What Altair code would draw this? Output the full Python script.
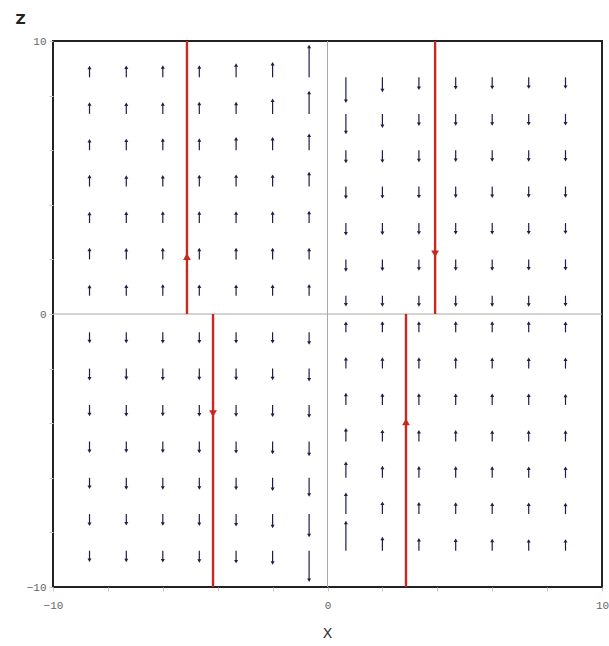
import altair as alt
import pandas as pd

# grid of sample points (x and z)
grid_x = [-8.67, -7.33, -6.0, -4.67, -3.33, -2.0, -0.67, 0.67, 2.0, 3.33, 4.67, 6.0, 7.33, 8.67]
grid_z = [-8.67, -7.33, -6.0, -4.67, -3.33, -2.0, -0.67, 0.67, 2.0, 3.33, 4.67, 6.0, 7.33, 8.67]

# signed vertical arrow length (data units) per column, from z=-8.67 up to z=8.67
arrow_len = [
    [-0.42, -0.44, -0.42, -0.43, -0.42, -0.44, -0.41, 0.41, 0.43, 0.42, 0.44, 0.42, 0.43, 0.43],
    [-0.43, -0.42, -0.44, -0.42, -0.43, -0.42, -0.41, 0.42, 0.42, 0.43, 0.42, 0.43, 0.42, 0.44],
    [-0.44, -0.43, -0.44, -0.43, -0.42, -0.44, -0.42, 0.43, 0.43, 0.44, 0.43, 0.44, 0.43, 0.45],
    [-0.45, -0.44, -0.44, -0.44, -0.43, -0.43, -0.42, 0.42, 0.43, 0.44, 0.44, 0.44, 0.45, 0.45],
    [-0.47, -0.46, -0.45, -0.45, -0.44, -0.43, -0.42, 0.42, 0.43, 0.44, 0.45, 0.49, 0.45, 0.52],
    [-0.52, -0.52, -0.49, -0.47, -0.45, -0.43, -0.42, 0.42, 0.43, 0.44, 0.45, 0.49, 0.57, 0.57],
    [-1.15, -0.85, -0.70, -0.55, -0.48, -0.48, -0.46, 0.43, 0.43, 0.46, 0.55, 0.62, 0.85, 1.20],
    [1.10, 0.80, 0.60, 0.50, 0.45, 0.43, 0.40, -0.40, -0.46, -0.46, -0.46, -0.48, -0.75, -0.95],
    [0.52, 0.47, 0.45, 0.44, 0.43, 0.42, 0.41, -0.41, -0.43, -0.44, -0.45, -0.47, -0.52, -0.55],
    [0.47, 0.45, 0.44, 0.43, 0.43, 0.42, 0.41, -0.41, -0.42, -0.43, -0.44, -0.45, -0.45, -0.47],
    [0.45, 0.44, 0.43, 0.43, 0.42, 0.42, 0.41, -0.41, -0.42, -0.42, -0.43, -0.44, -0.44, -0.45],
    [0.44, 0.43, 0.43, 0.42, 0.42, 0.41, 0.41, -0.41, -0.42, -0.42, -0.43, -0.43, -0.44, -0.44],
    [0.43, 0.43, 0.42, 0.42, 0.42, 0.41, 0.41, -0.41, -0.41, -0.42, -0.42, -0.43, -0.43, -0.43],
    [0.43, 0.42, 0.42, 0.42, 0.41, 0.41, 0.40, -0.40, -0.41, -0.41, -0.42, -0.42, -0.43, -0.43],
]

# red streamlines
stream_x = [-5.12, 3.92, -4.17, 2.86]
stream_z0 = [0, 0, 0, 0]
stream_z1 = [10, 10, -10, -10]
stream_head_z = [2.1, 2.2, -3.65, -3.95]
stream_dir = ["up", "down", "down", "up"]

rows = []
for i, xv in enumerate(grid_x):
    for j, zv in enumerate(grid_z):
        L = arrow_len[i][j]
        s = 1 if L > 0 else -1
        tip = zv + L
        rows.append({
            "x": xv, "z": zv, "tip": tip - s * 0.08,
            "hz": tip - s * 0.07,
            "shape": "triangle-up" if s > 0 else "triangle-down",
        })
arrows = pd.DataFrame(rows)

streams = pd.DataFrame({
    "x": stream_x, "z0": stream_z0, "z1": stream_z1, "hz": stream_head_z,
    "shape": ["triangle-up" if d == "up" else "triangle-down" for d in stream_dir],
})

W, H = 549, 546
xs = alt.Scale(domain=[-10, 10], nice=False, zero=False)
zs = alt.Scale(domain=[-10, 10], nice=False, zero=False)
tick_vals = list(range(-10, 11))
label_expr = "datum.value % 5 == 0 ? datum.label : ''"

x_axis = alt.Axis(
    values=tick_vals, labelExpr=label_expr, title="X", domain=False, grid=False,
    tickSize=4, tickColor="#c8c8c8", labelColor="#666", labelFont="Liberation Mono",
    labelFontSize=11, labelPadding=8, labelFlush=False,
    titleFont="DejaVu Sans", titleFontSize=14, titleFontWeight="normal", titleColor="#333",
    titleX=274, titleY=46, titleAnchor="middle", titleBaseline="middle",
)
z_axis = alt.Axis(
    values=tick_vals, labelExpr=label_expr, title="Z", domain=False, grid=False,
    tickSize=4, tickColor="#c8c8c8", labelColor="#666", labelFont="Liberation Mono",
    labelFontSize=11, labelPadding=3, labelFlush=False,
    titleFont="DejaVu Sans", titleFontSize=14, titleFontWeight="bold", titleColor="#222",
    titleAngle=0, titleX=-33, titleY=-22, titleAlign="center", titleBaseline="middle",
)

zero_df = pd.DataFrame({"v": [0]})
zero_v = alt.Chart(zero_df).mark_rule(color="#a8a8a8", strokeWidth=1).encode(
    x=alt.X("v:Q", scale=xs, axis=x_axis)
)
zero_h = alt.Chart(zero_df).mark_rule(color="#a8a8a8", strokeWidth=1).encode(
    y=alt.Y("v:Q", scale=zs, axis=z_axis)
)

shafts = alt.Chart(arrows).mark_rule(color="#1e1f45", strokeWidth=1.2).encode(
    x=alt.X("x:Q", scale=xs), y=alt.Y("z:Q", scale=zs), y2="tip:Q"
)
heads = alt.Chart(arrows).mark_point(filled=True, color="#1e1f45", size=16, opacity=1).encode(
    x=alt.X("x:Q", scale=xs), y=alt.Y("hz:Q", scale=zs),
    shape=alt.Shape("shape:N", scale=None),
)

red_lines = alt.Chart(streams).mark_rule(color="#c8281f", strokeWidth=2.4).encode(
    x=alt.X("x:Q", scale=xs), y=alt.Y("z0:Q", scale=zs), y2="z1:Q"
)
red_heads = alt.Chart(streams).mark_point(filled=True, color="#c8281f", size=60, opacity=1).encode(
    x=alt.X("x:Q", scale=xs), y=alt.Y("hz:Q", scale=zs),
    shape=alt.Shape("shape:N", scale=None),
)

chart = alt.layer(zero_v, zero_h, shafts, heads, red_lines, red_heads).properties(
    width=W, height=H,
    autosize=alt.AutoSizeParams(type="none"),
    padding={"left": 53, "top": 41, "right": 7, "bottom": 59},
).configure(background="white").configure_view(stroke="#222", strokeWidth=2)

chart.save("out.html", embed_options={"renderer": "svg", "actions": False})
